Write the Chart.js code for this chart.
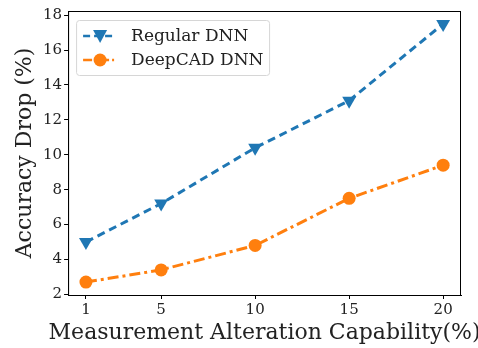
<!DOCTYPE html>
<html>
<head>
<meta charset="utf-8">
<script src="https://cdn.jsdelivr.net/npm/chart.js@4/dist/chart.umd.min.js"></script>
<style>
  html, body { margin: 0; padding: 0; background: #fff; }
  #wrap { width: 478px; height: 348px; }
</style>
</head>
<body>
<div id="wrap"><canvas id="c"></canvas></div>
<script>
// data
const capability = [1, 5, 10, 15, 20];
const regularDnn = [5.0, 7.2, 10.4, 13.1, 17.5];
const deepcadDnn = [2.7, 3.4, 4.8, 7.5, 9.4];
const xTicks = [1, 5, 10, 15, 20];
const yTicks = [2, 4, 6, 8, 10, 12, 14, 16, 18];
const xTitle = 'Measurement Alteration Capability(%)';
const yTitle = 'Accuracy Drop (%)';

const BLUE = '#1f77b4';
const ORANGE = '#ff7f0e';
const SERIF = '"DejaVu Serif", serif';

const toPoints = (ys) => capability.map((x, i) => ({ x: x, y: ys[i] }));

// frame, axis titles (drawn here so Chart.js doesn't squeeze them) and legend
const framePlugin = {
    id: 'frame',
    afterDraw(chart) {
        const { ctx, chartArea: a } = chart;
        ctx.save();
        ctx.strokeStyle = '#000';
        ctx.lineWidth = 1;
        ctx.strokeRect(a.left + 0.5, a.top + 0.5, a.right - a.left - 1, a.bottom - a.top);

        // axis titles
        ctx.fillStyle = '#222';
        ctx.font = '22px ' + SERIF;
        ctx.textAlign = 'center';
        ctx.textBaseline = 'alphabetic';
        ctx.fillText(xTitle, (a.left + a.right) / 2, chart.height - 9);
        ctx.save();
        ctx.translate(31, (a.top + a.bottom) / 2);
        ctx.rotate(-Math.PI / 2);
        ctx.fillText(yTitle, 0, 0);
        ctx.restore();
        ctx.textAlign = 'left';

        // legend
        const bx = a.left + 8, by = a.top + 9, bw = 193, bh = 55;
        ctx.fillStyle = 'rgba(255,255,255,0.8)';
        ctx.strokeStyle = '#d6d6d6';
        ctx.beginPath();
        ctx.roundRect(bx + 0.5, by + 0.5, bw, bh, 3);
        ctx.fill();
        ctx.stroke();

        const rows = [
            { label: 'Regular DNN', color: BLUE, dash: [7, 4], marker: 'tri', y: by + 16 },
            { label: 'DeepCAD DNN', color: ORANGE, dash: [9, 3, 2, 3], marker: 'circ', y: by + 40 }
        ];
        rows.forEach(r => {
            ctx.strokeStyle = r.color;
            ctx.fillStyle = r.color;
            ctx.lineWidth = 2.5;
            ctx.setLineDash(r.dash);
            ctx.beginPath();
            ctx.moveTo(bx + 7, r.y);
            ctx.lineTo(bx + 40, r.y);
            ctx.stroke();
            ctx.setLineDash([]);
            const mx = bx + 24;
            ctx.beginPath();
            if (r.marker === 'tri') {
                ctx.moveTo(mx - 7, r.y - 6);
                ctx.lineTo(mx + 7, r.y - 6);
                ctx.lineTo(mx, r.y + 7);
                ctx.closePath();
            } else {
                ctx.arc(mx, r.y, 6.5, 0, Math.PI * 2);
            }
            ctx.fill();
            ctx.fillStyle = '#222';
            ctx.font = '17px ' + SERIF;
            ctx.textBaseline = 'middle';
            ctx.fillText(r.label, bx + 55, r.y + 1);
        });
        ctx.restore();
    }
};

new Chart(document.getElementById('c'), {
    type: 'line',
    data: {
        datasets: [{
            label: 'Regular DNN',
            data: toPoints(regularDnn),
            borderColor: BLUE,
            backgroundColor: BLUE,
            borderWidth: 3,
            borderDash: [8, 5],
            pointStyle: 'triangle',
            rotation: 180,
            pointRadius: 8,
            pointBorderWidth: 0,
            tension: 0
        }, {
            label: 'DeepCAD DNN',
            data: toPoints(deepcadDnn),
            borderColor: ORANGE,
            backgroundColor: ORANGE,
            borderWidth: 3,
            borderDash: [11, 4, 3, 4],
            pointStyle: 'circle',
            pointRadius: 6.5,
            pointBorderWidth: 0,
            tension: 0
        }]
    },
    options: {
        responsive: true,
        maintainAspectRatio: false,
        animation: false,
        layout: { padding: { left: 41, right: 17, top: 6, bottom: 27 } },
        plugins: { legend: { display: false }, tooltip: { enabled: false } },
        scales: {
            x: {
                type: 'linear',
                min: 0.05,
                max: 20.95,
                afterBuildTicks: (axis) => { axis.ticks = xTicks.map(v => ({ value: v })); },
                grid: { drawOnChartArea: false, tickLength: 4, color: '#000' },
                border: { color: '#000' },
                ticks: { color: '#222', font: { family: SERIF, size: 15 }, padding: 2, maxRotation: 0 }
            },
            y: {
                min: 1.96,
                max: 18.24,
                afterBuildTicks: (axis) => { axis.ticks = yTicks.map(v => ({ value: v })); },
                grid: { drawOnChartArea: false, tickLength: 4, color: '#000' },
                border: { color: '#000' },
                ticks: { color: '#222', font: { family: SERIF, size: 15 }, padding: 2 }
            }
        }
    },
    plugins: [framePlugin]
});
</script>
</body>
</html>
